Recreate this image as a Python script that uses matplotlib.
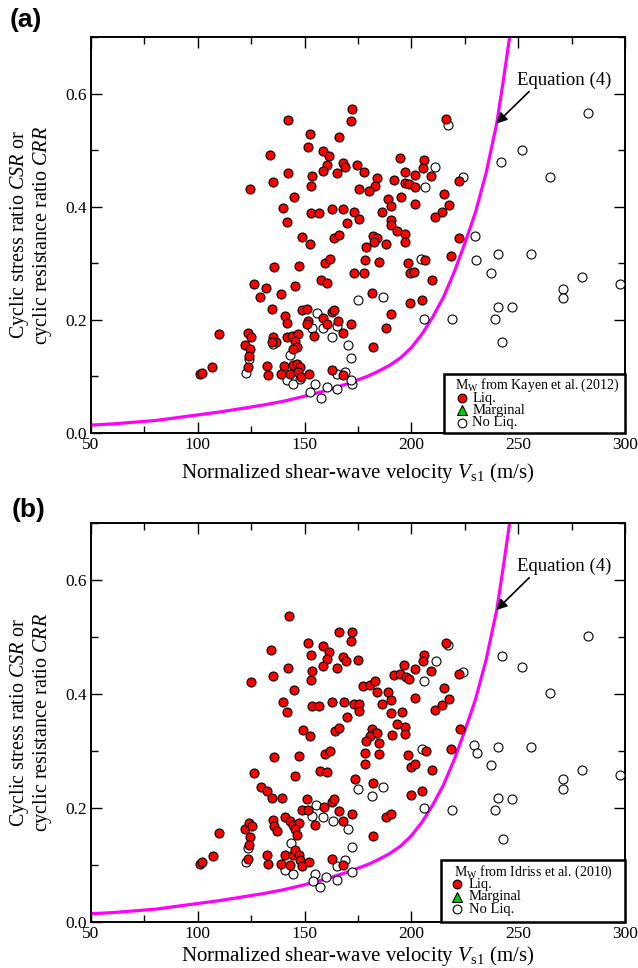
import matplotlib
matplotlib.use('Agg')
import matplotlib.pyplot as plt
from matplotlib.patches import Rectangle
from matplotlib.ticker import MultipleLocator, FormatStrFormatter

plt.rcParams['font.family'] = ['Liberation Serif', 'DejaVu Serif']
plt.rcParams['mathtext.fontset'] = 'custom'
plt.rcParams['mathtext.rm'] = 'Liberation Serif'
plt.rcParams['mathtext.it'] = 'Liberation Serif:italic'

# Equation (4) curve
curve_vs1 = [50, 60, 70, 80, 90, 100, 110, 120, 130, 140, 150, 160, 170, 180, 185,
             190, 195, 200, 205, 210, 215, 220, 225, 230, 235, 240, 243, 246]
curve_crr = [0.014, 0.016, 0.019, 0.022, 0.027, 0.032, 0.037, 0.043, 0.049, 0.056,
             0.065, 0.075, 0.087, 0.101, 0.110, 0.120, 0.133, 0.151, 0.175, 0.205,
             0.240, 0.284, 0.335, 0.390, 0.460, 0.548, 0.622, 0.700]

# Panel (a): Liq. cases
a_liq_vs1 = [142.4, 152.5, 166.0, 151.4, 133.8, 158.5, 161.5, 160.3, 158.5, 165.0,
             142.1, 153.3, 135.2, 124.3, 153.0, 145.0, 140.0, 153.0, 156.7, 162.8,
             141.8, 148.9, 163.8, 166.1, 172.4, 171.6, 216.2, 167.8, 169.1, 174.7,
             177.7, 194.5, 205.9, 205.4, 196.9, 201.7, 209.0, 184.1, 183.0, 191.7,
             197.0, 199.0, 201.7, 222.3, 175.3, 180.3, 188.9, 195.1, 190.5, 201.9,
             215.3, 217.6, 214.5, 210.9, 168.1, 173.0, 175.3, 186.1, 169.7, 190.5,
             190.5, 193.4, 197.2, 181.9, 183.7, 222.5, 197.2, 188.1, 178.6, 182.5,
             152.5, 135.7, 147.2, 159.6, 161.9, 126.2, 131.8, 129.1, 138.8, 145.4,
             157.5, 160.5, 134.6, 148.8, 151.0, 140.7, 141.9, 151.8, 151.0, 158.8,
             162.7, 163.8, 160.3, 165.8, 154.4, 109.9, 123.7, 124.9, 122.1, 124.4,
             124.1, 123.3, 135.1, 136.5, 141.6, 144.0, 147.1, 145.7, 146.3, 144.4,
             101.0, 101.8, 106.8, 132.2, 132.7, 140.4, 139.0, 143.2, 144.4, 146.3,
             147.9, 147.1, 148.3, 152.1, 162.7, 134.6, 178.3, 184.8, 173.3, 178.0,
             198.6, 206.4, 199.4, 201.2, 209.5, 218.4, 181.7, 199.4, 204.8, 190.3,
             188.0, 171.6, 168.1, 181.9, 167.8]
a_liq_crr = [0.554, 0.528, 0.523, 0.505, 0.491, 0.499, 0.489, 0.474, 0.463, 0.459,
             0.459, 0.454, 0.443, 0.432, 0.436, 0.418, 0.397, 0.389, 0.389, 0.396,
             0.373, 0.346, 0.344, 0.350, 0.573, 0.552, 0.556, 0.477, 0.471, 0.474,
             0.462, 0.486, 0.482, 0.469, 0.462, 0.457, 0.454, 0.451, 0.436, 0.448,
             0.442, 0.440, 0.435, 0.446, 0.431, 0.427, 0.413, 0.417, 0.402, 0.404,
             0.422, 0.403, 0.391, 0.382, 0.396, 0.391, 0.379, 0.391, 0.371, 0.376,
             0.367, 0.357, 0.351, 0.348, 0.345, 0.345, 0.337, 0.334, 0.328, 0.338,
             0.335, 0.294, 0.296, 0.301, 0.308, 0.264, 0.256, 0.241, 0.246, 0.259,
             0.270, 0.266, 0.220, 0.218, 0.219, 0.207, 0.194, 0.198, 0.193, 0.204,
             0.214, 0.218, 0.192, 0.198, 0.171, 0.175, 0.177, 0.169, 0.156, 0.149,
             0.136, 0.116, 0.170, 0.161, 0.170, 0.171, 0.175, 0.163, 0.152, 0.148,
             0.104, 0.106, 0.117, 0.118, 0.102, 0.118, 0.105, 0.105, 0.120, 0.122,
             0.117, 0.108, 0.099, 0.105, 0.111, 0.160, 0.305, 0.302, 0.282, 0.283,
             0.301, 0.305, 0.282, 0.285, 0.270, 0.313, 0.248, 0.229, 0.236, 0.211,
             0.186, 0.192, 0.177, 0.152, 0.103]

# Panel (a): No Liq. cases
a_noliq_vs1 = [217.0, 211.0, 206.2, 224.3, 229.7, 230.4, 240.4, 255.8, 237.3, 280.0,
               297.7, 271.1, 271.1, 240.4, 247.3, 239.3, 218.9, 205.9, 242.6, 282.8,
               251.6, 242.1, 264.9, 204.3, 186.6, 175.2, 155.6, 153.3, 158.8, 165.0,
               163.0, 170.5, 171.6, 168.9, 172.0, 171.6, 165.0, 143.2, 124.1, 122.6,
               135.1, 141.6, 144.7, 165.0, 154.9, 152.5, 160.3, 157.7, 148.0]
a_noliq_crr = [0.545, 0.471, 0.435, 0.452, 0.349, 0.305, 0.316, 0.316, 0.283, 0.276,
               0.264, 0.255, 0.238, 0.222, 0.222, 0.201, 0.201, 0.201, 0.161, 0.565,
               0.500, 0.480, 0.453, 0.308, 0.241, 0.236, 0.213, 0.186, 0.186, 0.190,
               0.170, 0.155, 0.132, 0.108, 0.086, 0.094, 0.077, 0.138, 0.131, 0.106,
               0.158, 0.093, 0.086, 0.104, 0.086, 0.073, 0.082, 0.061, 0.095]

# Panel (b): Liq. cases
b_liq_vs1 = [142.9, 134.1, 151.8, 152.8, 142.2, 153.3, 135.4, 124.8, 152.8, 145.0,
             140.0, 141.9, 153.3, 156.9,
             166.1, 172.4, 171.6, 158.5, 161.4, 160.3, 167.8, 169.4, 174.8, 165.0,
             158.5, 216.0, 205.9, 205.6, 196.7, 192.0, 194.7, 197.5, 199.0, 201.7,
             209.2, 222.4, 177.5, 180.6, 183.0, 184.1, 188.9, 190.6, 215.3, 217.6,
             214.5, 211.1, 201.8, 162.7, 168.4, 173.1, 175.6, 175.5, 186.4, 170.0,
             190.5, 195.4,
             149.1, 152.5, 135.7, 147.4, 126.3, 129.4, 132.2, 145.5, 157.2, 134.7,
             139.3, 151.0, 148.6, 151.8, 140.8, 143.2, 144.7, 147.4, 145.5, 146.3,
             154.9, 135.1, 135.7, 136.9, 109.9, 122.1, 124.1, 125.2, 124.4, 124.1,
             123.7, 101.0, 102.0, 107.3, 132.2, 133.0, 139.0, 140.8, 143.2, 144.4,
             145.5, 147.5, 147.9, 148.6, 152.2,
             164.2, 166.3, 181.4, 183.0, 180.6, 184.1, 190.8, 193.4, 197.0, 197.0,
             178.7, 185.0, 222.8, 159.6, 161.9, 160.6, 178.3, 178.3, 185.0, 198.6,
             199.7, 201.7, 206.7, 209.8, 218.5, 173.6, 181.9, 199.7, 204.8, 188.1,
             190.3, 182.2, 159.1, 162.7, 163.8, 166.3, 167.8, 172.0, 162.7, 167.8]
b_liq_crr = [0.537, 0.477, 0.489, 0.468, 0.445, 0.440, 0.431, 0.420, 0.424, 0.406,
             0.386, 0.368, 0.378, 0.378,
             0.508, 0.508, 0.492, 0.484, 0.474, 0.461, 0.464, 0.458, 0.460, 0.446,
             0.449, 0.490, 0.468, 0.458, 0.450, 0.434, 0.435, 0.429, 0.426, 0.444,
             0.441, 0.435, 0.413, 0.415, 0.423, 0.404, 0.403, 0.389, 0.410, 0.391,
             0.381, 0.371, 0.392, 0.386, 0.386, 0.382, 0.382, 0.370, 0.382, 0.359,
             0.366, 0.368,
             0.336, 0.326, 0.289, 0.291, 0.261, 0.237, 0.230, 0.255, 0.265, 0.217,
             0.218, 0.215, 0.196, 0.196, 0.184, 0.176, 0.170, 0.173, 0.162, 0.152,
             0.170, 0.179, 0.168, 0.160, 0.156, 0.163, 0.173, 0.168, 0.148, 0.135,
             0.111, 0.101, 0.105, 0.115, 0.118, 0.101, 0.101, 0.117, 0.100, 0.117,
             0.126, 0.117, 0.108, 0.097, 0.104,
             0.334, 0.340, 0.338, 0.331, 0.326, 0.332, 0.328, 0.347, 0.341, 0.330,
             0.318, 0.314, 0.338, 0.294, 0.300, 0.262, 0.297, 0.277, 0.294, 0.293,
             0.271, 0.277, 0.299, 0.266, 0.304, 0.250, 0.243, 0.223, 0.230, 0.184,
             0.190, 0.151, 0.202, 0.211, 0.215, 0.194, 0.176, 0.190, 0.110, 0.100]

# Panel (b): No Liq. cases
b_noliq_vs1 = [217.3, 242.3, 251.6, 282.8, 264.9, 211.4, 206.1, 224.3, 155.3, 153.3,
               123.7, 122.6, 143.6, 140.8, 144.7, 154.9, 154.1, 157.2, 204.8, 229.3,
               230.6, 240.4, 255.8, 237.3, 280.0, 297.7, 271.1, 271.1, 240.7, 247.3,
               239.3, 218.9, 205.9, 242.7, 175.2, 186.9, 181.4, 158.8, 163.1, 170.5,
               172.0, 168.9, 165.0, 172.0, 165.3, 160.0]
b_noliq_crr = [0.485, 0.467, 0.448, 0.501, 0.401, 0.458, 0.423, 0.439, 0.205, 0.186,
               0.129, 0.104, 0.138, 0.090, 0.084, 0.084, 0.072, 0.061, 0.303, 0.311,
               0.297, 0.306, 0.307, 0.276, 0.266, 0.258, 0.250, 0.233, 0.217, 0.215,
               0.197, 0.197, 0.199, 0.146, 0.233, 0.237, 0.221, 0.184, 0.176, 0.163,
               0.132, 0.108, 0.098, 0.088, 0.074, 0.079]

legend_a = 'M$_{\\rm W}$ from Kayen et al. (2012)'
legend_b = 'M$_{\\rm W}$ from Idriss et al. (2010)'

fig = plt.figure(figsize=(6.38, 9.68), dpi=100)
ax_a = fig.add_axes([0.1426, 0.5527, 0.837, 0.409])
ax_b = fig.add_axes([0.1426, 0.0478, 0.837, 0.4119])


def draw(ax, liq_x, liq_y, nl_x, nl_y, title, box, rows, xpad):
    ax.plot(curve_vs1, curve_crr, color='#ff00ff', lw=2.3, zorder=2)
    ax.scatter(nl_x, nl_y, s=42, facecolor='white', edgecolor='black', lw=0.8, zorder=3)
    ax.scatter(liq_x, liq_y, s=42, facecolor='#ff0000', edgecolor='black', lw=0.8, zorder=4)
    ax.set_xlim(50, 300)
    ax.set_ylim(0, 0.7)
    ax.xaxis.set_major_locator(MultipleLocator(50))
    ax.xaxis.set_minor_locator(MultipleLocator(25))
    ax.yaxis.set_major_locator(MultipleLocator(0.2))
    ax.yaxis.set_minor_locator(MultipleLocator(0.1))
    ax.yaxis.set_major_formatter(FormatStrFormatter('%.1f'))
    ax.tick_params(which='both', direction='in', top=True, right=True, width=1.0,
                   labelsize=12.5, pad=3)
    ax.tick_params(which='major', length=8)
    ax.tick_params(which='minor', length=5)
    for sp in ax.spines.values():
        sp.set_linewidth(1.4)
    ax.set_xlabel('Normalized shear-wave velocity $V$$_{\\rm s1}$ (m/s)', fontsize=15,
                  labelpad=xpad)
    ax.set_ylabel('Cyclic stress ratio $CSR$ or\ncyclic resistance ratio $CRR$',
                  fontsize=14.5, labelpad=8, linespacing=1.0)
    ax.annotate('Equation (4)', xy=(239.7, 0.547), xytext=(249.4, 0.624),
                fontsize=13.5, ha='left', va='center',
                arrowprops=dict(arrowstyle='-|>', color='black', lw=1.2,
                                mutation_scale=16, shrinkA=0, shrinkB=0,
                                relpos=(0.16, 0.0)), zorder=6)
    # legend box
    x0, y0 = box
    ax.add_patch(Rectangle((x0, 0.0), 1.0 - x0, y0, transform=ax.transAxes,
                           facecolor='white', edgecolor='black', lw=1.8, zorder=7,
                           clip_on=False))
    tx, mx, ttx, r0, r1, r2, r3 = rows
    ax.text(ttx, r0, title, transform=ax.transAxes, fontsize=10, va='center',
            ha='left', zorder=8)
    ax.plot([mx], [r1], marker='o', ms=6.3, mfc='#ff0000', mec='black', mew=0.8,
            transform=ax.transAxes, zorder=8, clip_on=False)
    ax.plot([mx], [r2], marker='^', ms=6.5, mfc='#00cc00', mec='black', mew=0.8,
            transform=ax.transAxes, zorder=8, clip_on=False)
    ax.plot([mx], [r3], marker='o', ms=6.3, mfc='white', mec='black', mew=0.8,
            transform=ax.transAxes, zorder=8, clip_on=False)
    ax.text(tx, r1, 'Liq.', transform=ax.transAxes, fontsize=10.5, va='center', ha='left', zorder=8)
    ax.text(tx, r2, 'Marginal', transform=ax.transAxes, fontsize=10.5, va='center', ha='left', zorder=8)
    ax.text(tx, r3, 'No Liq.', transform=ax.transAxes, fontsize=10.5, va='center', ha='left', zorder=8)


draw(ax_a, a_liq_vs1, a_liq_crr, a_noliq_vs1, a_noliq_crr, legend_a,
     (0.661, 0.15), (0.714, 0.694, 0.682, 0.121, 0.0874, 0.058, 0.026), 6)
draw(ax_b, b_liq_vs1, b_liq_crr, b_noliq_vs1, b_noliq_crr, legend_b,
     (0.655, 0.155), (0.707, 0.685, 0.679, 0.124, 0.0946, 0.0627, 0.031), 1.5)

fig.text(10 / 638, 1 - 8 / 968, '(a)', fontsize=19, fontweight='bold',
         family='Liberation Sans', ha='left', va='top')
fig.text(12 / 638, 1 - 498 / 968, '(b)', fontsize=19, fontweight='bold',
         family='Liberation Sans', ha='left', va='top')

fig.savefig('out.png', dpi=100)
